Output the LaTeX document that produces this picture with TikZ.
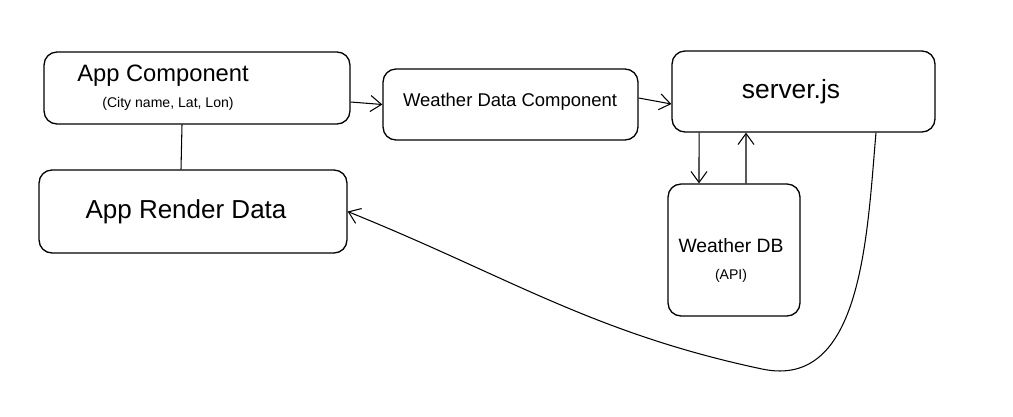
\documentclass[tikz,border=0pt]{standalone}
\usepackage{fontspec}
\setmainfont{Liberation Sans}
\usetikzlibrary{arrows.meta}
\begin{document}
\begin{tikzpicture}[x=0.02cm,y=-0.02cm,
  box/.style={draw,rounded corners=0.26cm,line width=0.75pt,inner sep=0pt},
  link/.style={line width=0.6pt,-{Straight Barb[length=2.2mm,width=3.2mm]}}]
%\draw[help lines, thick,gray,step=50] (0,0) grid (1013,416);
\useasboundingbox (0,0) rectangle (1013,416);
\node[box,minimum width=6.12cm,minimum height=1.44cm] (appc) at (197,88) {};
\node[box,minimum width=6.16cm,minimum height=1.66cm] (ard) at (193,211.5) {};
\node[box,minimum width=5.10cm,minimum height=1.42cm] (wdc) at (510.5,104.5) {};
\node[box,minimum width=5.26cm,minimum height=1.62cm] (srv) at (803.5,91.5) {};
\node[box,minimum width=2.64cm,minimum height=2.64cm] (db) at (734,250) {};
\node[font=\fontsize{13.5}{15}\selectfont] (appct) at (163,76) {App Component};
\node[font=\fontsize{8}{9}\selectfont] (appcs) at (168,104) {(City name, Lat, Lon)};
\node[font=\fontsize{14.8}{16}\selectfont] (ardt) at (186,212) {App Render Data};
\node[font=\fontsize{10.5}{12}\selectfont] (wdct) at (510,102) {Weather Data Component};
\node[font=\fontsize{15}{17}\selectfont] (srvt) at (791,92) {server.js};
\node[font=\fontsize{11}{13}\selectfont] (dbt) at (731,246) {Weather DB};
\node[font=\fontsize{8}{9}\selectfont] (dbs) at (731,276) {(API)};
\coordinate (bend) at (762,369);
\draw[line width=0.6pt] ([xshift=-3mm]appc.south) -- ([xshift=-2.4mm]ard.north);
\draw[link] ([yshift=-2.8mm]appc.east) -- (wdc.west);
\draw[link] ([yshift=1.3mm]wdc.east) -- ([yshift=-2.5mm]srv.west);
\draw[link] ([xshift=-2.09cm]srv.south) -- ([xshift=-7mm]db.north);
\draw[link] ([xshift=2.4mm]db.north) -- ([xshift=-1.15cm]srv.south);
\draw[link] ([xshift=1.45cm]srv.south) to[out=-95,in=-12] (bend) to[out=168,in=-22] (ard.east);
\end{tikzpicture}
\end{document}
